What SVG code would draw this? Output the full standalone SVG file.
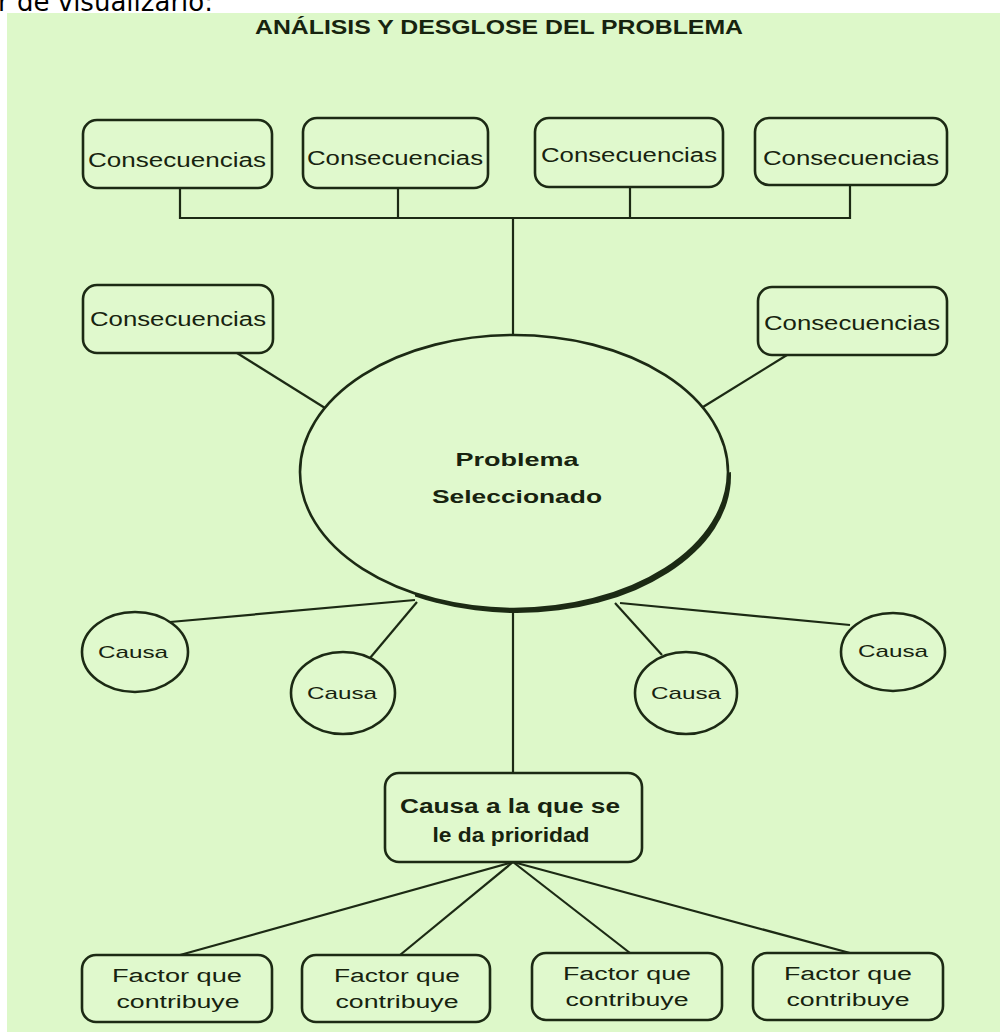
<svg xmlns="http://www.w3.org/2000/svg" width="1005" height="1032" viewBox="0 0 1005 1032">
<style>
.bg{fill:#ddf8c9}
.box{fill:#e0f9cd;stroke:#1c2a14;stroke-width:2.6}
.ln{stroke:#1c2a14;stroke-width:2.2;fill:none}
.t{font-family:"Liberation Sans","DejaVu Sans",sans-serif;fill:#17230f;text-anchor:middle}
.b{font-weight:bold}
</style>
<defs>
<clipPath id="shadowClip"><polygon points="415,560 738,470 738,640 415,640"/></clipPath>
</defs>
<rect width="1005" height="1032" fill="#ffffff"/>
<text x="-2" y="11" font-family="'DejaVu Sans',sans-serif" font-size="26" fill="#000" textLength="215" lengthAdjust="spacingAndGlyphs">r de visualizarlo:</text>
<rect class="bg" x="7" y="13" width="993" height="1019"/>
<text class="t b" x="499" y="34" font-size="20" textLength="488" lengthAdjust="spacingAndGlyphs">ANÁLISIS Y DESGLOSE DEL PROBLEMA</text>

<g id="connectors">
<polyline class="ln" points="180,188 180,218 850,218 850,186"/>
<line class="ln" x1="398" y1="188" x2="398" y2="218"/>
<line class="ln" x1="630" y1="187" x2="630" y2="218"/>
<line class="ln" x1="513" y1="218" x2="513" y2="335"/>
<line class="ln" x1="237" y1="353" x2="325" y2="408"/>
<line class="ln" x1="787" y1="355" x2="703" y2="407"/>
<line class="ln" x1="170" y1="622" x2="415" y2="600"/>
<line class="ln" x1="370" y1="658" x2="417" y2="602"/>
<line class="ln" x1="662" y1="655" x2="615" y2="603"/>
<line class="ln" x1="850" y1="625" x2="620" y2="603"/>
<line class="ln" x1="513" y1="610" x2="513" y2="773"/>
<line class="ln" x1="513" y1="862" x2="180" y2="955"/>
<line class="ln" x1="513" y1="862" x2="400" y2="955"/>
<line class="ln" x1="513" y1="862" x2="630" y2="953"/>
<line class="ln" x1="513" y1="862" x2="850" y2="953"/>
</g>

<g id="cons1"><rect class="box" x="83" y="120" width="189" height="68" rx="14"/><text class="t" x="177" y="167" font-size="20" textLength="178" lengthAdjust="spacingAndGlyphs">Consecuencias</text></g>
<g id="cons2"><rect class="box" x="303" y="118" width="185" height="70" rx="14"/><text class="t" x="395" y="165" font-size="20" textLength="176" lengthAdjust="spacingAndGlyphs">Consecuencias</text></g>
<g id="cons3"><rect class="box" x="535" y="118" width="188" height="69" rx="14"/><text class="t" x="629" y="162" font-size="20" textLength="176" lengthAdjust="spacingAndGlyphs">Consecuencias</text></g>
<g id="cons4"><rect class="box" x="755" y="118" width="192" height="67" rx="14"/><text class="t" x="851" y="165" font-size="20" textLength="176" lengthAdjust="spacingAndGlyphs">Consecuencias</text></g>
<g id="cons5"><rect class="box" x="83" y="285" width="190" height="68" rx="14"/><text class="t" x="178" y="326" font-size="20" textLength="176" lengthAdjust="spacingAndGlyphs">Consecuencias</text></g>
<g id="cons6"><rect class="box" x="758" y="287" width="189" height="68" rx="14"/><text class="t" x="852" y="330" font-size="20" textLength="176" lengthAdjust="spacingAndGlyphs">Consecuencias</text></g>

<g id="problema">
<ellipse cx="517" cy="476" rx="214" ry="137" fill="#1c2a14" clip-path="url(#shadowClip)"/>
<ellipse class="box" cx="514" cy="472" rx="214" ry="137"/>
<text class="t b" x="517" y="466" font-size="19" textLength="123" lengthAdjust="spacingAndGlyphs">Problema</text>
<text class="t b" x="517" y="503" font-size="19" textLength="170" lengthAdjust="spacingAndGlyphs">Seleccionado</text>
</g>

<g id="causa1"><ellipse class="box" cx="135" cy="652" rx="53" ry="40"/><text class="t" x="133" y="658" font-size="17" textLength="70" lengthAdjust="spacingAndGlyphs">Causa</text></g>
<g id="causa2"><ellipse class="box" cx="343" cy="693" rx="52" ry="41"/><text class="t" x="342" y="699" font-size="17" textLength="70" lengthAdjust="spacingAndGlyphs">Causa</text></g>
<g id="causa3"><ellipse class="box" cx="686" cy="693" rx="51" ry="41"/><text class="t" x="686" y="699" font-size="17" textLength="70" lengthAdjust="spacingAndGlyphs">Causa</text></g>
<g id="causa4"><ellipse class="box" cx="893" cy="652" rx="52" ry="39"/><text class="t" x="893" y="657" font-size="17" textLength="70" lengthAdjust="spacingAndGlyphs">Causa</text></g>

<g id="prioridad"><rect class="box" x="385" y="773" width="257" height="89" rx="14"/>
<text class="t b" x="510" y="813" font-size="20" textLength="220" lengthAdjust="spacingAndGlyphs">Causa a la que se</text>
<text class="t b" x="511" y="842" font-size="20" textLength="157" lengthAdjust="spacingAndGlyphs">le da prioridad</text></g>

<g id="factor1"><rect class="box" x="82" y="955" width="190" height="67" rx="14"/><text class="t" x="177" y="982" font-size="18" textLength="130" lengthAdjust="spacingAndGlyphs">Factor que</text><text class="t" x="178" y="1008" font-size="18" textLength="123" lengthAdjust="spacingAndGlyphs">contribuye</text></g>
<g id="factor2"><rect class="box" x="302" y="955" width="188" height="67" rx="14"/><text class="t" x="397" y="982" font-size="18" textLength="126" lengthAdjust="spacingAndGlyphs">Factor que</text><text class="t" x="397" y="1008" font-size="18" textLength="123" lengthAdjust="spacingAndGlyphs">contribuye</text></g>
<g id="factor3"><rect class="box" x="532" y="953" width="190" height="67" rx="14"/><text class="t" x="627" y="980" font-size="18" textLength="128" lengthAdjust="spacingAndGlyphs">Factor que</text><text class="t" x="627" y="1006" font-size="18" textLength="123" lengthAdjust="spacingAndGlyphs">contribuye</text></g>
<g id="factor4"><rect class="box" x="753" y="953" width="190" height="67" rx="14"/><text class="t" x="848" y="980" font-size="18" textLength="128" lengthAdjust="spacingAndGlyphs">Factor que</text><text class="t" x="848" y="1006" font-size="18" textLength="123" lengthAdjust="spacingAndGlyphs">contribuye</text></g>
</svg>
